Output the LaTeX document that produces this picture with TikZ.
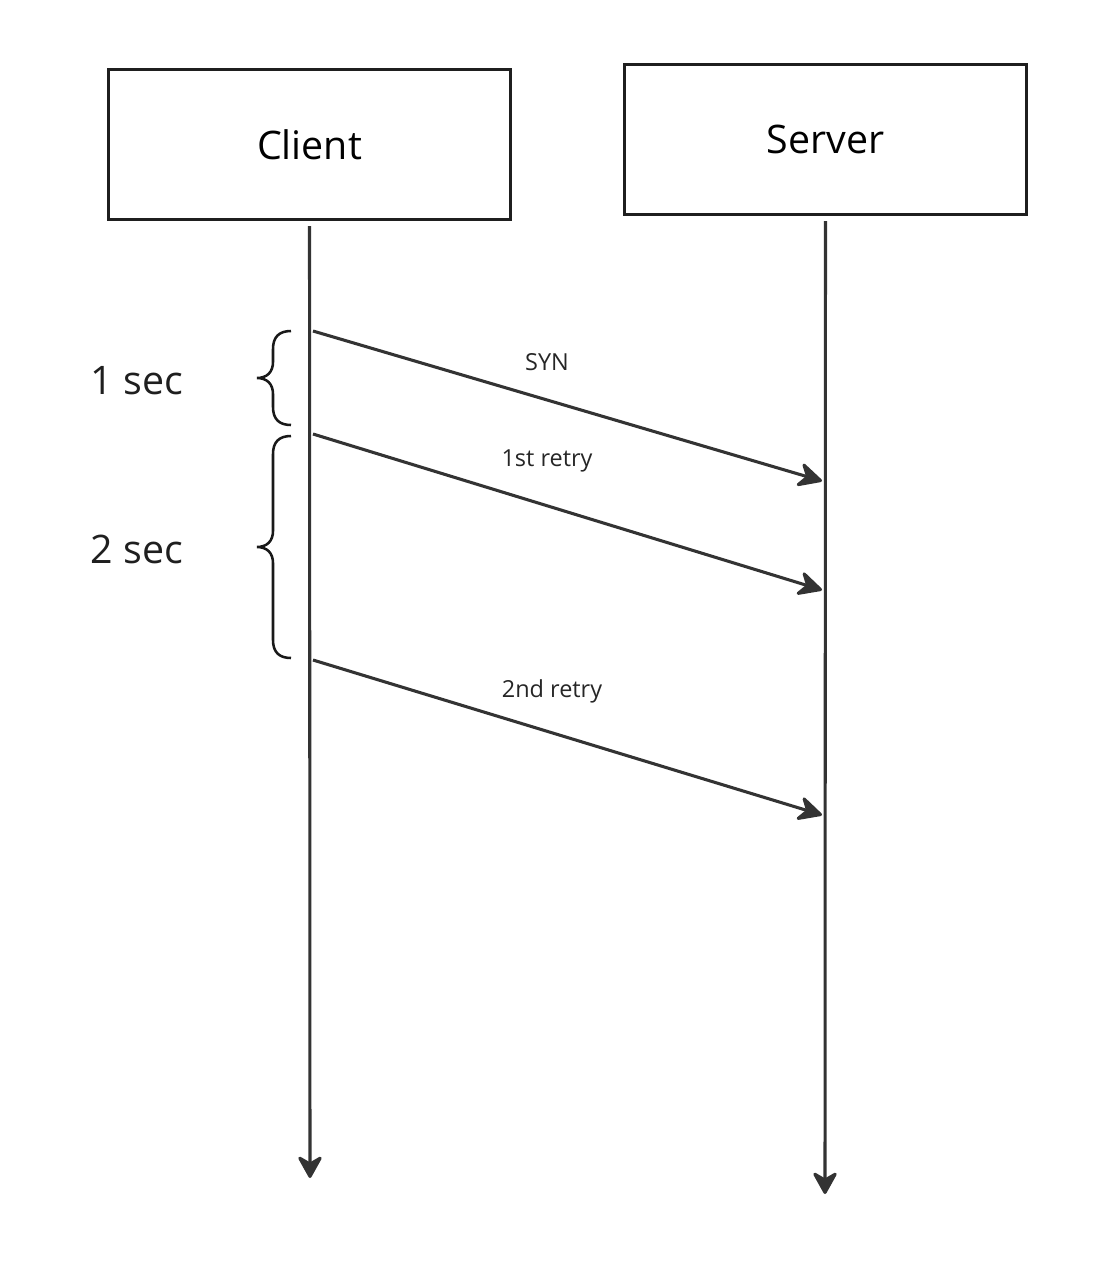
\documentclass[tikz,border=0pt]{standalone}
\usepackage{fontspec}
\setmainfont{Open Sans}
\usetikzlibrary{arrows.meta}

\begin{document}
\begin{tikzpicture}[x=0.75pt,y=0.75pt,yscale=-1,xscale=1,
  actor/.style={draw=black!88,line width=2.4pt,minimum width=301pt,minimum height=112pt,inner sep=0pt,font=\fontsize{29.5}{34}\selectfont},
  life/.style={draw=black!80,line width=2.3pt,-{Stealth[length=19pt,width=21pt,inset=6pt,round]}},
  msg/.style={draw=black!80,line width=2.3pt,-{Stealth[length=21pt,width=21pt,inset=7pt,round]}},
  tag/.style={font=\fontsize{17.6}{20}\selectfont,text=black!85,inner sep=0.75pt},
  span/.style={draw=black!90,line width=1.9pt},
  spantag/.style={font=\fontsize{29.5}{34}\selectfont,text=black!88,inner sep=0.75pt}]
\useasboundingbox (0,0) rectangle (1102,1272);

% Boxes
\node [actor] (client) at (309.5,144.5) {Client};
\node [actor] (server) at (825.5,139.5) {Server};

% Lifelines
\coordinate (clientend) at (310,1178);
\coordinate (serverend) at (825,1194);
\draw [life,shorten <=4pt] (client.south) -- (clientend);
\draw [life,shorten <=4pt] (server.south) -- (serverend);

% Messages
\coordinate (c1) at (313,331);
\coordinate (s1) at (822,481);
\coordinate (c2) at (313,434);
\coordinate (s2) at (822,590);
\coordinate (c3) at (313,660);
\coordinate (s3) at (822,815);
\draw [msg] (c1) -- (s1);
\draw [msg] (c2) -- (s2);
\draw [msg] (c3) -- (s3);

% Text Node
\node [tag] (syn) at (547,362) {SYN};
% Text Node
\node [tag] (retry1) at (547,461) {1st retry};
% Text Node
\node [tag] (retry2) at (552,691) {2nd retry};

% Braces
\draw [span] (291,331) .. controls (279,331) and (273,337) .. (273,349) -- (273,362) .. controls (273,372) and (267,378) .. (257,378) .. controls (267,378) and (273,384) .. (273,394) -- (273,407) .. controls (273,419) and (279,425) .. (291,425);
\draw [span] (291,436) .. controls (279,436) and (273,442) .. (273,454) -- (273,531) .. controls (273,541) and (267,547) .. (257,547) .. controls (267,547) and (273,553) .. (273,563) -- (273,640) .. controls (273,652) and (279,658) .. (291,658);

% Text Node
\node [spantag] (onesec) at (137,381) {1 sec};
% Text Node
\node [spantag] (twosec) at (137,549) {2 sec};

\end{tikzpicture}
\end{document}
